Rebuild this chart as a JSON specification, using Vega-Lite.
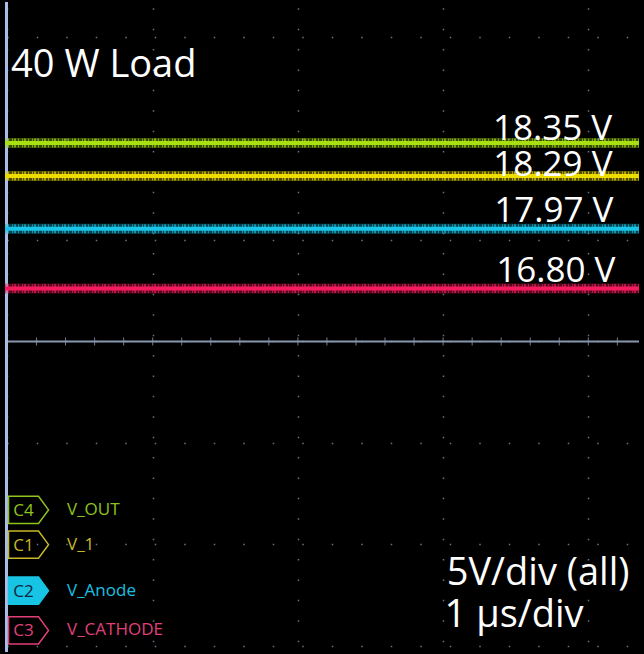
{
  "$schema": "https://vega.github.io/schema/vega-lite/v6.json",
  "width": 644,
  "height": 654,
  "autosize": {"type": "fit", "contains": "padding"},
  "padding": 0,
  "background": "#000000",
  "config": {
    "view": {"stroke": null},
    "text": {"font": "Open Sans"}
  },
  "datasets": {
    "cticks": [
      {"t": -2.0, "v": 0}, {"t": -1.8, "v": 0}, {"t": -1.6, "v": 0}, {"t": -1.4, "v": 0}, {"t": -1.2, "v": 0},
      {"t": -1.0, "v": 0}, {"t": -0.8, "v": 0}, {"t": -0.6, "v": 0}, {"t": -0.4, "v": 0}, {"t": -0.2, "v": 0},
      {"t": 0.0, "v": 0}, {"t": 0.2, "v": 0}, {"t": 0.4, "v": 0}, {"t": 0.6, "v": 0}, {"t": 0.8, "v": 0},
      {"t": 1.0, "v": 0}, {"t": 1.2, "v": 0}, {"t": 1.4, "v": 0}, {"t": 1.6, "v": 0}, {"t": 1.8, "v": 0},
      {"t": 2.0, "v": 0}, {"t": 2.2, "v": 0}
    ],
    "traces": [
      {"ch": "V_OUT", "v": 1.958},
      {"ch": "V_1", "v": 1.632},
      {"ch": "V_Anode", "v": 1.110},
      {"ch": "V_CATHODE", "v": 0.522}
    ],
    "values": [
      {"t": 1.343, "v": 1.985, "label": "18.35 V"},
      {"t": 1.346, "v": 1.632, "label": "18.29 V"},
      {"t": 1.352, "v": 1.175, "label": "17.97 V"},
      {"t": 1.366, "v": 0.586, "label": "16.80 V"}
    ],
    "title": [{"t": -1.975, "v": 2.613, "label": "40 W Load"}],
    "scaleinfo": [
      {"t": 1.025, "v": -2.407, "label": "5V/div (all)"},
      {"t": 1.010, "v": -2.819, "label": "1 µs/div"}
    ],
    "legend": [
      {"ch": "V_OUT", "badge": "C4", "v": -1.662, "filled": "no"},
      {"ch": "V_1", "badge": "C1", "v": -2.005, "filled": "no"},
      {"ch": "V_Anode", "badge": "C2", "v": -2.459, "filled": "yes"},
      {"ch": "V_CATHODE", "badge": "C3", "v": -2.851, "filled": "no"}
    ]
  },
  "layer": [
    {
      "data": {"name": "cticks"},
      "mark": {"type": "tick", "orient": "vertical", "size": 8, "thickness": 1, "color": "#7d8aa3", "opacity": 0.9},
      "encoding": {
        "x": {
          "field": "t", "type": "quantitative",
          "scale": {"domain": [-2.017, 2.349], "nice": false, "zero": false},
          "axis": {"orient": "bottom", "values": [-2, -1, 0, 1, 2], "grid": true, "gridColor": "#6a7488", "gridWidth": 1.5, "gridDash": [1.5, 18.9], "gridDashOffset": 14.65, "domain": false, "ticks": false, "labels": false, "title": null}
        },
        "y": {
          "field": "v", "type": "quantitative",
          "scale": {"domain": [-3.064, 3.348], "nice": false, "zero": false},
          "axis": {"orient": "left", "values": [-3, -2, -1, 0, 1, 2, 3], "grid": true, "gridColor": "#6a7488", "gridWidth": 1.5, "gridDash": [1.5, 28], "gridDashOffset": 27.75, "domain": false, "ticks": false, "labels": false, "title": null}
        }
      }
    },
    {
      "data": {"values": [{"v": 0}]},
      "mark": {"type": "rule", "color": "#8a96ae", "strokeWidth": 2},
      "encoding": {"y": {"field": "v", "type": "quantitative"}}
    },
    {
      "data": {"values": [{"t": -2.017}]},
      "mark": {"type": "rule", "color": "#a9bde6", "strokeWidth": 3, "xOffset": 1.5},
      "encoding": {"x": {"field": "t", "type": "quantitative"}}
    },
    {
      "data": {"name": "traces"},
      "mark": {"type": "rule", "strokeWidth": 10, "opacity": 0.35},
      "encoding": {
        "y": {"field": "v", "type": "quantitative"},
        "color": {"field": "ch", "type": "nominal", "legend": null,
          "scale": {"domain": ["V_OUT", "V_1", "V_Anode", "V_CATHODE"], "range": ["#9fd80f", "#e6d800", "#12bde0", "#f0185a"]}}
      }
    },
    {
      "data": {"name": "traces"},
      "mark": {"type": "rule", "strokeWidth": 9, "opacity": 0.65, "strokeDash": [1, 2, 2, 1, 1, 3]},
      "encoding": {
        "y": {"field": "v", "type": "quantitative"},
        "color": {"field": "ch", "type": "nominal", "legend": null,
          "scale": {"domain": ["V_OUT", "V_1", "V_Anode", "V_CATHODE"], "range": ["#9fd80f", "#e6d800", "#12bde0", "#f0185a"]}}
      }
    },
    {
      "data": {"name": "traces"},
      "mark": {"type": "rule", "strokeWidth": 4},
      "encoding": {
        "y": {"field": "v", "type": "quantitative"},
        "color": {"field": "ch", "type": "nominal", "legend": null,
          "scale": {"domain": ["V_OUT", "V_1", "V_Anode", "V_CATHODE"], "range": ["#a8e014", "#ecdc00", "#18c4e8", "#f41c5e"]}}
      }
    },
    {
      "data": {"name": "title"},
      "mark": {"type": "text", "align": "left", "baseline": "alphabetic", "fontSize": 38, "color": "#ffffff"},
      "encoding": {
        "x": {"field": "t", "type": "quantitative"},
        "y": {"field": "v", "type": "quantitative"},
        "text": {"field": "label"}
      }
    },
    {
      "data": {"name": "values"},
      "mark": {"type": "text", "align": "left", "baseline": "alphabetic", "fontSize": 35, "color": "#ffffff"},
      "encoding": {
        "x": {"field": "t", "type": "quantitative"},
        "y": {"field": "v", "type": "quantitative"},
        "text": {"field": "label"}
      }
    },
    {
      "data": {"name": "scaleinfo"},
      "mark": {"type": "text", "align": "left", "baseline": "alphabetic", "fontSize": 38, "color": "#ffffff"},
      "encoding": {
        "x": {"field": "t", "type": "quantitative"},
        "y": {"field": "v", "type": "quantitative"},
        "text": {"field": "label"}
      }
    },
    {
      "data": {"name": "legend"},
      "mark": {"type": "point", "shape": "M-1,-0.68L0.5,-0.68L1,0L0.5,0.68L-1,0.68Z", "size": 1600, "strokeWidth": 1.5, "opacity": 1},
      "encoding": {
        "x": {"datum": -1.855},
        "y": {"field": "v", "type": "quantitative"},
        "stroke": {"field": "ch", "type": "nominal", "legend": null,
          "scale": {"domain": ["V_OUT", "V_1", "V_Anode", "V_CATHODE"], "range": ["#8fc31f", "#c8b828", "#18c4e4", "#e0407a"]}},
        "fill": {"field": "filled", "type": "nominal", "legend": null,
          "scale": {"domain": ["no", "yes"], "range": ["transparent", "#18c4e4"]}}
      }
    },
    {
      "data": {"name": "legend"},
      "mark": {"type": "text", "align": "center", "baseline": "middle", "fontSize": 17, "dy": 1},
      "encoding": {
        "x": {"datum": -1.889},
        "y": {"field": "v", "type": "quantitative"},
        "text": {"field": "badge"},
        "color": {"field": "badge", "type": "nominal", "legend": null,
          "scale": {"domain": ["C4", "C1", "C2", "C3"], "range": ["#8fc31f", "#c8b828", "#0a2540", "#e0407a"]}}
      }
    },
    {
      "data": {"name": "legend"},
      "mark": {"type": "text", "align": "left", "baseline": "middle", "fontSize": 17, "dy": 0},
      "encoding": {
        "x": {"datum": -1.59},
        "y": {"field": "v", "type": "quantitative"},
        "text": {"field": "ch"},
        "color": {"field": "ch", "type": "nominal", "legend": null,
          "scale": {"domain": ["V_OUT", "V_1", "V_Anode", "V_CATHODE"], "range": ["#8fc31f", "#c8b828", "#18c0e0", "#e0407a"]}}
      }
    }
  ],
  "resolve": {"scale": {"color": "independent", "stroke": "independent", "fill": "independent"}}
}
